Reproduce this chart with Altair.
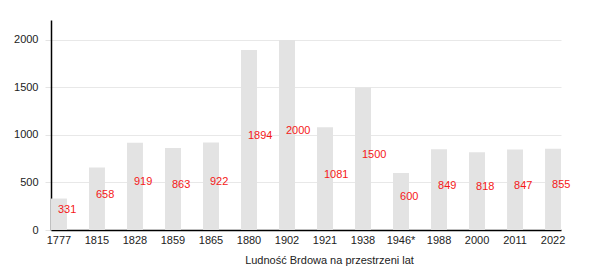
import altair as alt
import pandas as pd

years = ["1777", "1815", "1828", "1859", "1865", "1880", "1902", "1921", "1938", "1946*", "1988", "2000", "2011", "2022"]
population = [331, 658, 919, 863, 922, 1894, 2000, 1081, 1500, 600, 849, 818, 847, 855]

df = pd.DataFrame({"year": years, "pop": population})
df["half"] = df["pop"] / 2

x = alt.X("year:N", sort=years,
          scale=alt.Scale(paddingInner=0.58, paddingOuter=0),
          axis=alt.Axis(title="Ludność Brdowa na przestrzeni lat", labelAngle=0,
                        ticks=False, domainColor="#000", domainWidth=1.5,
                        labelFont="Liberation Sans", labelFontSize=11, labelColor="#222",
                        labelPadding=4, titleFont="Liberation Sans", titleFontSize=11,
                        titleFontWeight="normal", titleColor="#222", titleX=278, titleY=24,
                        grid=False))

base = alt.Chart(df)

bars = base.mark_bar(color="#e3e3e3").encode(
    x=x,
    y=alt.Y("pop:Q", scale=alt.Scale(domain=[0, 2210], nice=False),
            axis=alt.Axis(title=None, values=[0, 500, 1000, 1500, 2000], ticks=True,
                          tickColor="#e4e4e4", tickSize=6, tickWidth=1,
                          format="d", labelPadding=7, domainColor="#000", domainWidth=1.5,
                          gridColor="#e8e8e8", labelFont="Liberation Sans",
                          labelFontSize=11, labelColor="#222")),
)

labels = base.mark_text(
    color="#f51818", align="left", baseline="middle", dy=-4, dx=-1,
    font="Liberation Sans", fontSize=11
).encode(
    x=alt.X("year:N", sort=years),
    y=alt.Y("half:Q"),
    text=alt.Text("pop:Q"),
)

chart = (bars + labels).properties(
    width=510, height=210,
    autosize=alt.AutoSizeParams(type="none"),
    padding={"left": 51, "top": 20, "right": 39, "bottom": 40},
).configure_view(stroke=None)

chart.save("out.html", embed_options={"renderer": "svg", "actions": False})
